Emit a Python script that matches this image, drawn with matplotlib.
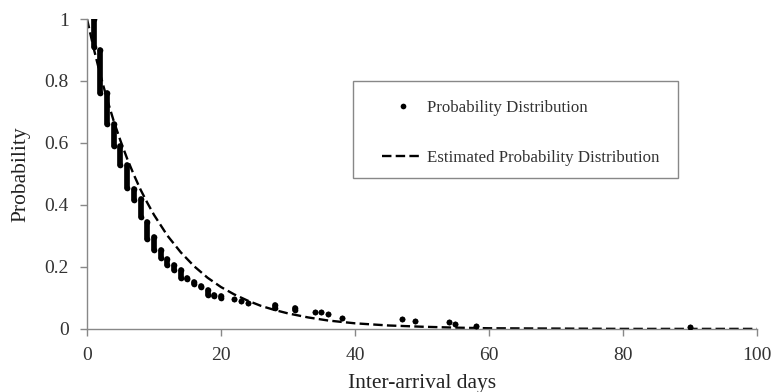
import matplotlib
matplotlib.use("Agg")
import matplotlib.pyplot as plt
from matplotlib.patches import Rectangle
from matplotlib.ticker import FuncFormatter

plt.rcParams['font.family'] = ['Liberation Serif', 'DejaVu Serif']

# observed probability: each inter-arrival day has a stack of points (hi..lo)
prob_x = [1, 2, 3, 4, 5, 6, 7, 8, 9, 10, 11, 12, 13, 14, 15, 16, 17, 18, 19, 20,
          22, 23, 24, 28, 31, 34, 35, 36, 38, 47, 49, 54, 55, 58, 90]
prob_hi = [1.00, 0.90, 0.76, 0.66, 0.59, 0.53, 0.45, 0.42, 0.345, 0.295, 0.255, 0.225,
           0.205, 0.19, 0.165, 0.15, 0.14, 0.125, 0.11, 0.105,
           0.095, 0.09, 0.085, 0.077, 0.066, 0.055, 0.053, 0.047, 0.036, 0.032,
           0.027, 0.022, 0.016, 0.010, 0.005]
prob_lo = [0.91, 0.76, 0.66, 0.59, 0.53, 0.455, 0.415, 0.36, 0.29, 0.255, 0.23, 0.205,
           0.19, 0.165, 0.16, 0.145, 0.135, 0.11, 0.105, 0.10,
           0.095, 0.09, 0.085, 0.069, 0.062, 0.055, 0.053, 0.047, 0.036, 0.032,
           0.027, 0.022, 0.016, 0.010, 0.005]

# estimated (fitted) distribution
est_x = [0, 1, 2, 3, 4, 5, 6, 7, 8, 9, 10, 12, 14, 16, 18, 20, 22, 24, 26, 28, 30,
         33, 36, 40, 45, 50, 55, 60, 70, 80, 90, 100]
est_y = [1.0, 0.905, 0.819, 0.741, 0.670, 0.607, 0.549, 0.497, 0.449, 0.407, 0.368,
         0.301, 0.247, 0.202, 0.165, 0.135, 0.111, 0.091, 0.074, 0.061, 0.050,
         0.037, 0.027, 0.018, 0.011, 0.007, 0.004, 0.002, 0.001, 0.0, 0.0, 0.0]

fig, ax = plt.subplots(figsize=(7.74, 3.92), dpi=100)
fig.subplots_adjust(left=0.1124, right=0.978, bottom=0.161, top=0.9515)

dot = 4.1
ax.vlines(prob_x, prob_lo, prob_hi, colors='black', linewidth=dot, capstyle='round', zorder=3)
ax.plot(prob_x, prob_hi, 'o', color='black', markersize=dot, markeredgewidth=0, zorder=3,
        label='Probability Distribution')
ax.plot(prob_x, prob_lo, 'o', color='black', markersize=dot, markeredgewidth=0, zorder=3)
ax.plot(est_x, est_y, color='black', linewidth=1.7, dashes=(4, 1.8), zorder=2,
        label='Estimated Probability Distribution')

ax.set_xlim(0, 100)
ax.set_ylim(0, 1)
ax.set_xticks([0, 20, 40, 60, 80, 100])
ax.set_yticks([0, 0.2, 0.4, 0.6, 0.8, 1.0])
ax.yaxis.set_major_formatter(FuncFormatter(lambda v, p: '%g' % v))
ax.tick_params(labelsize=14, colors='#888888', labelcolor='#333333', length=5, width=1)
ax.tick_params(axis='x', pad=8)
ax.tick_params(axis='y', pad=8)

for side in ['top', 'right']:
    ax.spines[side].set_visible(False)
for side in ['left', 'bottom']:
    ax.spines[side].set_color('#888888')
    ax.spines[side].set_linewidth(1)

ax.set_xlabel('Inter-arrival days', fontsize=15.5, color='#222222', labelpad=7)
ax.set_ylabel('Probability', fontsize=15.5, color='#222222', labelpad=10)

# legend box drawn separately so the padding matches the reference
ax.add_patch(Rectangle((0.397, 0.487), 0.485, 0.313, transform=ax.transAxes,
                       facecolor='white', edgecolor='#888888', linewidth=1, zorder=4))
leg = ax.legend(loc='upper left', bbox_to_anchor=(0.441, 0.738), frameon=False,
                fontsize=12.2, borderpad=0, labelspacing=2.0, handlelength=2.4,
                handletextpad=0.25, borderaxespad=0)
leg.set_zorder(5)
for t in leg.get_texts():
    t.set_color('#333333')

fig.savefig('out.png', dpi=100)
